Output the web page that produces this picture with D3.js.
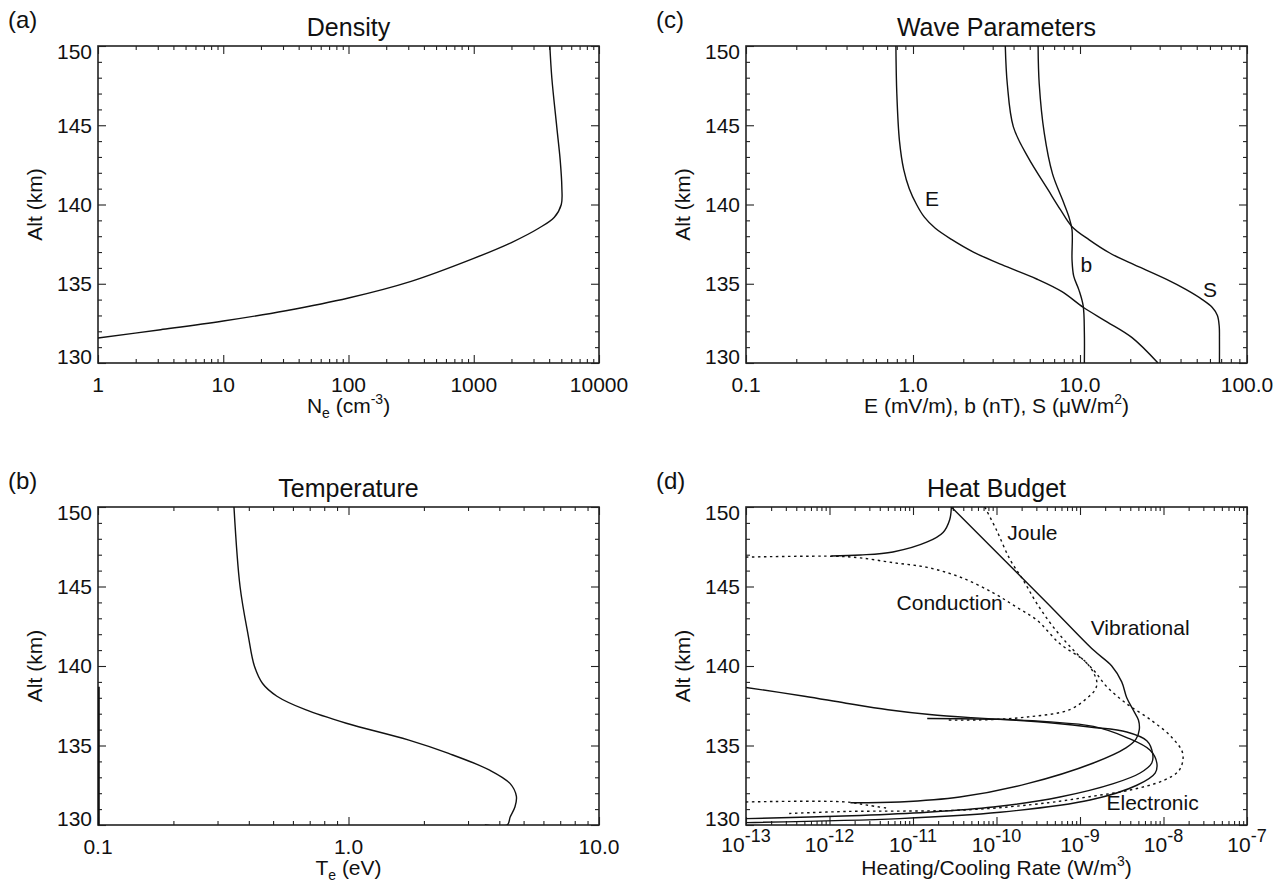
<!DOCTYPE html>
<html>
<head>
<meta charset="utf-8">
<script src="https://cdn.jsdelivr.net/npm/d3@7"></script>
<style>
  body { margin: 0; background: #fff; }
  text { font-family: "Liberation Sans", Arial, Helvetica, sans-serif; fill: #111; }
</style>
</head>
<body>
<svg id="fig" width="1279" height="884"></svg>
<script>
// ---- values ----
var altDomain = [130, 150];
var altMajor = [130, 135, 140, 145, 150];
var altMinor = d3.range(130, 151).filter(function(a){ return a % 5 !== 0; });

// (a) density
var neAlt = [131.58, 132.1, 132.65, 133.3, 134.1, 135.15, 136.6, 137.6, 138.5, 139.2, 140.0, 141.1, 142.8, 144.9, 148.0, 150];
var neVal = [1, 3.16, 10, 31.6, 100, 316, 1000, 2000, 3300, 4400, 5000, 5050, 4900, 4600, 4200, 4050];
var neTicks = [1, 10, 100, 1000, 10000];
var neTickLabels = ["1", "10", "100", "1000", "10000"];

// (b) temperature
var teAlt = [150, 145, 141.9, 140, 138.9, 138.1, 137.25, 136.4, 135.35, 134.5, 133.45, 132.6, 131.8, 131.15, 130.5, 130.0, 130.0];
var teVal = [0.349, 0.369, 0.398, 0.421, 0.454, 0.518, 0.673, 0.98, 1.73, 2.51, 3.66, 4.42, 4.68, 4.62, 4.42, 4.30, 3.5];
var teFloorAlt = [130, 138.7];
var teFloorVal = [0.1, 0.1];
var teTicks = [0.1, 1, 10];
var teTickLabels = ["0.1", "1.0", "10.0"];

// (c) wave parameters
var eAlt = [150, 147, 144, 142.2, 141.0, 140.0, 139.2, 138.5, 137.8, 137.0, 136.2, 135.3, 134.5, 133.5, 132.6, 131.6, 130];
var eVal = [0.79, 0.80, 0.83, 0.88, 0.95, 1.05, 1.17, 1.36, 1.7, 2.3, 3.4, 5.5, 7.8, 10.5, 14.5, 20.5, 29.3];
var bAlt = [150, 147.6, 144.5, 141.95, 140.28, 139.24, 138.4, 136.5, 135.48, 134.6, 133.6, 131.9, 130];
var bVal = [5.61, 5.7, 6.11, 6.84, 7.87, 8.57, 8.96, 8.96, 9.17, 9.86, 10.45, 10.62, 10.62];
var sAlt = [150, 147.6, 144.9, 143.0, 140.9, 139.66, 138.6, 137.77, 136.94, 136.31, 135.27, 134.64, 134.0, 133.5, 133.0, 132.3, 131.5, 130];
var sVal = [3.57, 3.67, 3.99, 4.87, 6.46, 7.65, 8.96, 11.36, 15.07, 20, 33, 43, 54, 62, 66.5, 68.2, 68.4, 68.4];
var waveTicks = [0.1, 1, 10, 100];
var waveTickLabels = ["0.1", "1.0", "10.0", "100.0"];

// (d) heat budget, rates in W/m^3
var vibAlt = [150, 144.0, 141.0, 140.0, 139.0, 138.0, 137.2, 136.6, 136.0, 135.4, 134.85, 133.9, 132.6, 131.76, 131.45, 131.4];
var vibVal = [2.88e-11, 3.98e-10, 1.45e-9, 2.40e-9, 3.16e-9, 3.63e-9, 4.37e-9, 5.01e-9, 5.13e-9, 4.68e-9, 3.55e-9, 1.45e-9, 2.34e-10, 3.63e-11, 6.92e-12, 1.78e-12];
var topAlt = [146.92, 146.98, 147.17, 147.8, 148.4, 149.2, 150];
var topVal = [1.05e-12, 2.34e-12, 5.75e-12, 1.48e-11, 2.29e-11, 2.75e-11, 2.88e-11];
var elecAlt = [138.65, 138.1, 137.66, 137.25, 136.95, 136.75, 136.6, 136.4, 136.15, 135.85, 135.3, 134.5, 133.9, 133.27, 132.6, 131.76, 131.13, 130.8, 130.6, 130.4];
var elecVal = [1e-13, 5.01e-13, 1.58e-12, 5.01e-12, 1.58e-11, 5.01e-11, 1.58e-10, 5.01e-10, 1.38e-9, 3.63e-9, 6.31e-9, 7.41e-9, 7.24e-9, 5.25e-9, 2.51e-9, 5.75e-10, 9.12e-11, 1.48e-11, 2.34e-12, 1e-13];
var thirdAlt = [136.7, 136.65, 136.5, 136.2, 135.5, 134.7, 133.9, 133.27, 132.5, 131.57, 130.8, 130.4, 130.15];
var thirdVal = [1.48e-11, 1e-10, 3.98e-10, 1.45e-9, 3.63e-9, 6.92e-9, 8.32e-9, 7.94e-9, 4.79e-9, 1.32e-9, 1.10e-10, 6.92e-12, 1e-13];
var jouleAlt = [150, 148.55, 146.7, 145.4, 143.96, 142.45, 141.0, 139.75, 138.7, 137.66, 136.6, 135.56, 134.5, 133.46, 132.8, 132.2, 131.78, 131.4, 130.95, 130.85, 130.72];
var jouleVal = [7.24e-11, 1e-10, 1.45e-10, 2.09e-10, 3.02e-10, 4.79e-10, 8.32e-10, 1.45e-9, 2.09e-9, 3.55e-9, 7.08e-9, 1.23e-8, 1.70e-8, 1.55e-8, 1.0e-8, 3.98e-9, 1.29e-9, 4.17e-10, 4.37e-11, 1.58e-12, 3.16e-13];
var condAlt = [146.85, 146.9, 146.8, 146.5, 146.2, 145.6, 144.6, 143.7, 142.9, 141.4, 140.2, 139.1, 138.6, 138.1, 137.24, 136.8, 136.62, 136.6];
var condVal = [1e-13, 1.17e-12, 2.34e-12, 5.75e-12, 1.48e-11, 3.63e-11, 9.12e-11, 1.74e-10, 3.02e-10, 5.75e-10, 1.20e-9, 1.58e-9, 1.55e-9, 1.29e-9, 7.41e-10, 2.40e-10, 7.76e-11, 2.51e-11];
var condLowAlt = [131.45, 131.45, 131.25, 131.05];
var condLowVal = [1e-13, 1.58e-12, 2.82e-12, 5.01e-12];
var heatTicks = [1e-13, 1e-12, 1e-11, 1e-10, 1e-9, 1e-8, 1e-7];
var heatTickExp = ["-13", "-12", "-11", "-10", "-9", "-8", "-7"];

// curve labels: [text, x value, altitude]
var waveLabels = [["E", 1.3, 140.4], ["b", 10.9, 136.2], ["S", 60, 134.6]];
var heatLabels = [["Joule", 2.69e-10, 148.4], ["Conduction", 2.75e-11, 143.96], ["Vibrational", 5.25e-9, 142.4], ["Electronic", 7.41e-9, 131.4]];

// ---- drawing ----
var svg = d3.select("#fig");

function isDecade(v) {
  var l = Math.log10(v);
  return Math.abs(l - Math.round(l)) < 1e-6;
}

function drawPanel(p) {
  var x = d3.scaleLog().domain([p.ticks[0], p.ticks[p.ticks.length - 1]]).range([p.x0, p.x1]);
  var y = d3.scaleLinear().domain(altDomain).range([p.y1, p.y0]);
  var g = svg.append("g");

  g.append("clipPath").attr("id", "clip-" + p.id)
    .append("rect").attr("x", p.x0).attr("y", p.y0)
    .attr("width", p.x1 - p.x0).attr("height", p.y1 - p.y0);

  var minors = x.ticks().filter(function(v){ return !isDecade(v); });

  function ticks(axisFn, scale, vals, size, tr) {
    g.append("g").attr("transform", tr)
      .call(axisFn(scale).tickValues(vals).tickSize(size).tickFormat(""))
      .call(function(s){ s.select(".domain").remove(); s.selectAll("text").remove(); })
      .selectAll("line").attr("stroke", "#222").attr("stroke-width", 1.1);
  }
  ticks(d3.axisBottom, x, p.ticks, -8, "translate(0," + p.y1 + ")");
  ticks(d3.axisBottom, x, minors, -4, "translate(0," + p.y1 + ")");
  ticks(d3.axisTop, x, p.ticks, -8, "translate(0," + p.y0 + ")");
  ticks(d3.axisTop, x, minors, -4, "translate(0," + p.y0 + ")");
  ticks(d3.axisLeft, y, altMajor, -8, "translate(" + p.x0 + ",0)");
  ticks(d3.axisLeft, y, altMinor, -4, "translate(" + p.x0 + ",0)");
  ticks(d3.axisRight, y, altMajor, -8, "translate(" + p.x1 + ",0)");
  ticks(d3.axisRight, y, altMinor, -4, "translate(" + p.x1 + ",0)");

  g.append("rect").attr("x", p.x0).attr("y", p.y0)
    .attr("width", p.x1 - p.x0).attr("height", p.y1 - p.y0)
    .attr("fill", "none").attr("stroke", "#222").attr("stroke-width", 1.6);

  // y tick labels (end labels kept inside the box height, as in the figure)
  g.selectAll(".ylab").data(altMajor).enter().append("text")
    .attr("x", p.x0 - 6)
    .attr("y", function(a){ return Math.min(Math.max(y(a), p.y0 + 6), p.y1 - 6); })
    .attr("dy", "0.35em").attr("text-anchor", "end").attr("font-size", 21)
    .text(function(a){ return a; });

  // x tick labels
  p.ticks.forEach(function(v, i) {
    var t = g.append("text").attr("x", x(v)).attr("text-anchor", "middle").attr("font-size", 21);
    if (p.exp) {
      t.attr("y", p.y1 + 27);
      t.append("tspan").text("10");
      t.append("tspan").attr("dy", -10).attr("font-size", 18).text(p.exp[i]);
    } else {
      t.attr("y", p.y1 + 29).text(p.tickLabels[i]);
    }
  });

  // titles
  g.append("text").attr("x", (p.x0 + p.x1) / 2).attr("y", p.y0 - 10)
    .attr("text-anchor", "middle").attr("font-size", 25).text(p.title);
  g.append("text").attr("x", p.x0 - 90).attr("y", p.y0 - 18)
    .attr("font-size", 24).text(p.tag);
  g.append("text").attr("transform", "translate(" + (p.x0 - 56) + "," + ((p.y0 + p.y1) / 2) + ") rotate(-90)")
    .attr("text-anchor", "middle").attr("font-size", 21).text("Alt (km)");
  var xt = g.append("text").attr("x", (p.x0 + p.x1) / 2).attr("y", p.y1 + 50)
    .attr("text-anchor", "middle").attr("font-size", 21);
  p.xTitle.forEach(function(part) {
    var ts = xt.append("tspan").text(part[0]);
    if (part[1] === "sub") ts.attr("font-size", 14).attr("dy", 5);
    if (part[1] === "sup") ts.attr("font-size", 14).attr("dy", -9);
    if (part[1] === "back") ts.attr("dy", part[2]);
  });

  var line = d3.line()
    .x(function(d){ return x(d[0]); })
    .y(function(d){ return y(d[1]); })
    .curve(d3.curveCatmullRom.alpha(0.5));

  var curves = g.append("g").attr("clip-path", "url(#clip-" + p.id + ")");
  p.series.forEach(function(s) {
    curves.append("path").datum(d3.zip(s.v, s.a))
      .attr("d", line).attr("fill", "none").attr("stroke", "#111")
      .attr("stroke-width", s.w || 1.4)
      .attr("stroke-dasharray", s.dash ? "2.5,3.5" : null);
  });

  (p.labels || []).forEach(function(l) {
    g.append("text").attr("x", x(l[1])).attr("y", y(l[2])).attr("dy", "0.35em")
      .attr("text-anchor", "middle").attr("font-size", 21).text(l[0]);
  });
}

drawPanel({
  id: "a", tag: "(a)", title: "Density", x0: 98, x1: 599, y0: 46, y1: 363,
  ticks: neTicks, tickLabels: neTickLabels,
  xTitle: [["N"], ["e", "sub"], [" (cm", "back", -5], ["-3", "sup"], [")", "back", 9]],
  series: [{ a: neAlt, v: neVal }]
});

drawPanel({
  id: "b", tag: "(b)", title: "Temperature", x0: 98, x1: 599, y0: 507, y1: 825,
  ticks: teTicks, tickLabels: teTickLabels,
  xTitle: [["T"], ["e", "sub"], [" (eV)", "back", -5]],
  series: [{ a: teAlt, v: teVal }, { a: teFloorAlt, v: teFloorVal, w: 3.6 }]
});

drawPanel({
  id: "c", tag: "(c)", title: "Wave Parameters", x0: 746, x1: 1247, y0: 46, y1: 363,
  ticks: waveTicks, tickLabels: waveTickLabels,
  xTitle: [["E (mV/m), b (nT), S (\u03BCW/m"], ["2", "sup"], [")", "back", 9]],
  series: [{ a: eAlt, v: eVal }, { a: bAlt, v: bVal }, { a: sAlt, v: sVal }],
  labels: waveLabels
});

drawPanel({
  id: "d", tag: "(d)", title: "Heat Budget", x0: 746, x1: 1247, y0: 507, y1: 825,
  ticks: heatTicks, exp: heatTickExp,
  xTitle: [["Heating/Cooling Rate (W/m"], ["3", "sup"], [")", "back", 9]],
  series: [
    { a: vibAlt, v: vibVal }, { a: topAlt, v: topVal },
    { a: elecAlt, v: elecVal }, { a: thirdAlt, v: thirdVal },
    { a: jouleAlt, v: jouleVal, dash: true }, { a: condAlt, v: condVal, dash: true },
    { a: condLowAlt, v: condLowVal, dash: true }
  ],
  labels: heatLabels
});
</script>
</body>
</html>
